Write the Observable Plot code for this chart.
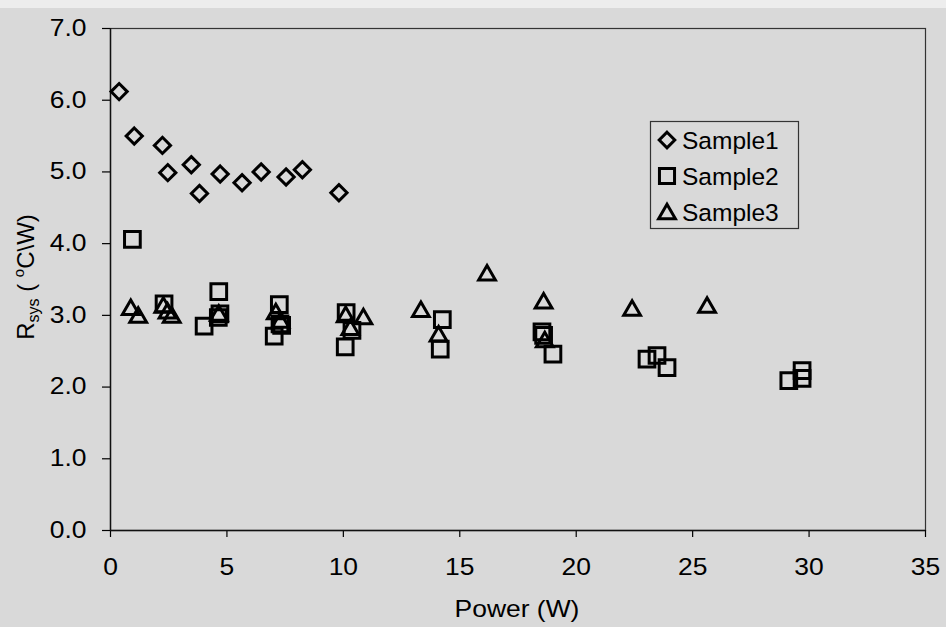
<!DOCTYPE html>
<html><head><meta charset="utf-8">
<script src="https://cdn.jsdelivr.net/npm/d3@7"></script>
<script src="https://cdn.jsdelivr.net/npm/@observablehq/plot@0.6"></script>
<style>
html,body{margin:0;padding:0;background:#d9d9d9;}
#chart{position:relative;width:946px;height:627px;overflow:hidden;}
#strip{position:absolute;left:0;top:0;width:946px;height:8px;background:#ededed;}
</style></head><body><div id="chart"><div id="strip"></div></div>
<script>
// ---- data ----
const seriesNames = ["Sample1", "Sample2", "Sample3"];
const seriesSymbols = ["diamond2", "square2", "triangle2"];

const sample1Power = [0.37, 1.02, 2.23, 2.46, 3.47, 3.82, 4.71, 5.65, 6.47, 7.54, 8.24, 9.81];
const sample1Rsys  = [6.12, 5.50, 5.37, 4.99, 5.10, 4.70, 4.97, 4.85, 5.00, 4.93, 5.03, 4.71];

const sample2Power = [0.94, 2.30, 4.02, 4.65, 4.63, 4.70, 7.03, 7.25, 7.28, 7.35, 10.12, 10.37, 10.08, 14.25, 14.16, 18.53, 18.60, 19.00, 23.04, 23.47, 23.90, 29.13, 29.70, 29.70];
const sample2Rsys  = [4.06, 3.16, 2.85, 3.33, 2.97, 3.02, 2.71, 3.15, 2.88, 2.86, 3.04, 2.79, 2.56, 2.94, 2.53, 2.77, 2.72, 2.46, 2.39, 2.44, 2.27, 2.09, 2.23, 2.12];

const sample3Power = [0.87, 1.19, 2.27, 2.45, 2.63, 4.65, 7.10, 7.30, 10.10, 10.30, 10.86, 13.33, 14.09, 16.17, 18.60, 18.65, 22.40, 25.62];
const sample3Rsys  = [3.08, 2.97, 3.11, 3.03, 2.97, 3.00, 3.02, 2.90, 2.98, 2.80, 2.95, 3.05, 2.71, 3.56, 3.17, 2.63, 3.07, 3.11];

const xTicks = [0, 5, 10, 15, 20, 25, 30, 35];
const yTicks = [0, 1, 2, 3, 4, 5, 6, 7];
const xTitle = "Power (W)";

const rows = (xs, ys) => xs.map((x, i) => ({x, y: ys[i]}));
const d1 = rows(sample1Power, sample1Rsys);
const d2 = rows(sample2Power, sample2Rsys);
const d3s = rows(sample3Power, sample3Rsys);

const FONT = "'Liberation Sans', Arial, Helvetica, sans-serif";
const markStyle = {stroke: "#000", strokeWidth: 3, fill: "none"};

const plot = Plot.plot({
  width: 946, height: 627,
  marginTop: 28, marginRight: 21, marginBottom: 97, marginLeft: 110,
  x: {domain: [0, 35]},
  y: {domain: [0, 7]},
  style: {background: "transparent", fontFamily: FONT, fontSize: "23px", color: "#000", overflow: "visible"},
  marks: [
    Plot.frame({stroke: "#333", strokeWidth: 1.2}),
    Plot.axisX({ticks: xTicks, tickSize: 7, tickPadding: 21, tickFormat: d => String(d), label: null, strokeWidth: 1.2}),
    Plot.axisY({ticks: yTicks, tickSize: 8, tickPadding: 16, tickFormat: d3.format(".1f"), label: null, strokeWidth: 1.2}),
    Plot.ruleX([0], {stroke: "#111", strokeWidth: 1.4}),
    Plot.ruleY([0], {stroke: "#111", strokeWidth: 1.4}),
    Plot.dot(d2, {x: "x", y: "y", symbol: seriesSymbols[1], r: 10, ...markStyle}),
    Plot.dot(d3s, {x: "x", y: "y", symbol: seriesSymbols[2], r: 8, ...markStyle}),
    Plot.dot(d1, {x: "x", y: "y", symbol: seriesSymbols[0], r: 7.3, ...markStyle})
  ]
});

document.getElementById("chart").appendChild(plot);

// horizontally stretched tick labels, as in the scanned original
plot.querySelectorAll('g[aria-label$="tick label"] text').forEach(t => {
  const tr = t.getAttribute("transform");
  if (tr) t.setAttribute("transform", tr + " scale(1.15,1)");
});

const svg = d3.select(plot);

// x-axis title
svg.append("text")
  .attr("transform", "translate(517,617) scale(1.15,1)")
  .attr("text-anchor", "middle")
  .attr("font-family", FONT).attr("font-size", 23).attr("fill", "#000")
  .text(xTitle);

// y-axis title: R_sys ( °C\W)
const yt = svg.append("text")
  .attr("transform", "translate(34,277) rotate(-90)")
  .attr("text-anchor", "middle")
  .attr("font-family", FONT).attr("font-size", 24).attr("fill", "#000");
yt.append("tspan").text("R");
yt.append("tspan").attr("font-size", 16).attr("dy", 5).text("sys");
yt.append("tspan").attr("dy", -5).text(" ( ");
yt.append("tspan").attr("font-size", 15).attr("dy", -10).text("o");
yt.append("tspan").attr("dy", 10).text("C\\W)");

// legend
const lg = svg.append("g");
lg.append("rect").attr("x", 650.5).attr("y", 121.5).attr("width", 148).attr("height", 107)
  .attr("fill", "none").attr("stroke", "#333").attr("stroke-width", 1.2);
const symFns = [d3.symbolDiamond2, d3.symbolSquare2, d3.symbolTriangle2];
const symR = [7.0, 9.6, 8.0];
const rowY = [140, 176, 212];
seriesNames.forEach((name, i) => {
  lg.append("path")
    .attr("d", d3.symbol(symFns[i], Math.PI * symR[i] * symR[i])())
    .attr("transform", `translate(667,${rowY[i] + (i === 2 ? 2 : 0)})`)
    .attr("fill", "none").attr("stroke", "#000").attr("stroke-width", 3);
  lg.append("text")
    .attr("x", 682).attr("y", rowY[i] + 8.5)
    .attr("text-anchor", "start")
    .attr("font-family", FONT).attr("font-size", 24.5).attr("fill", "#000")
    .text(name);
});
</script>
</body></html>
